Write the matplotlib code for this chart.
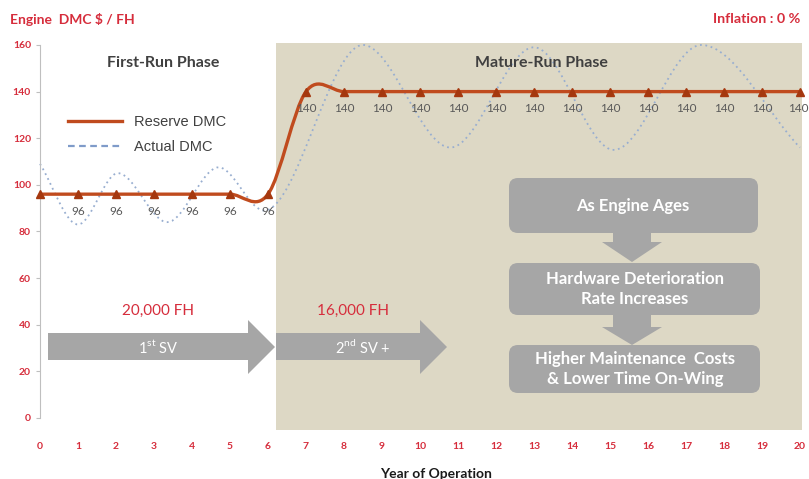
import numpy as np
import matplotlib
matplotlib.use('Agg')
import matplotlib.pyplot as plt
from matplotlib.path import Path
from matplotlib.patches import PathPatch, FancyBboxPatch, Polygon, Rectangle
from matplotlib.lines import Line2D
from matplotlib.transforms import Affine2D

plt.rcParams['font.family'] = ['Lato', 'DejaVu Sans']
plt.rcParams['mathtext.fontset'] = 'custom'
plt.rcParams['mathtext.rm'] = 'Lato'

W, H = 809, 479

# Reserve DMC per year of operation ($/FH)
years = [0, 1, 2, 3, 4, 5, 6, 7, 8, 9, 10, 11, 12, 13, 14, 15, 16, 17, 18, 19, 20]
reserve_dmc = [96, 96, 96, 96, 96, 96, 96, 140, 140, 140, 140, 140, 140, 140,
               140, 140, 140, 140, 140, 140, 140]

# Actual DMC, peaks and troughs of the cycle
actual_years = [0, 1.0, 2.05, 3.35, 4.7, 5.9, 8.5, 10.8, 13.0, 15.1, 17.4, 20]
actual_dmc = [109, 83, 105, 84, 107.5, 89, 160, 116, 159, 115, 160, 116]

y_ticks = [0, 20, 40, 60, 80, 100, 120, 140, 160]

RED = '#d62d3c'
LINE = '#c04b1e'
MARK = '#a5380f'
GREY = '#a6a6a6'
SHADE = '#ddd8c5'


def smooth_path(xs, ys, slopes):
    # cubic bezier through every point with the given tangent slopes
    verts = [(xs[0], ys[0])]
    codes = [Path.MOVETO]
    for i in range(len(xs) - 1):
        d = (xs[i + 1] - xs[i]) / 3
        verts += [(xs[i] + d, ys[i] + slopes[i] * d),
                  (xs[i + 1] - d, ys[i + 1] - slopes[i + 1] * d),
                  (xs[i + 1], ys[i + 1])]
        codes += [Path.CURVE4] * 3
    return Path(verts, codes)


# catmull-rom style tangents (Excel "smoothed line")
res_slopes = [0.0]
for i in range(1, len(years) - 1):
    res_slopes.append((reserve_dmc[i + 1] - reserve_dmc[i - 1]) / (years[i + 1] - years[i - 1]))
res_slopes.append(0.0)

# flat tangents at each peak / trough
act_slopes = [0.0] * len(actual_years)
act_slopes[0] = (actual_dmc[1] - actual_dmc[0]) / (actual_years[1] - actual_years[0])
act_slopes[-1] = (actual_dmc[-1] - actual_dmc[-2]) / (actual_years[-1] - actual_years[-2])

fig = plt.figure(figsize=(W / 100, H / 100), dpi=100)
ax = fig.add_axes([0.04475, 0.0885, 0.9488, 0.8468])
ax.set_xlim(-0.1, 20.1)
ax.set_ylim(-8, 166)

# mature-run phase background
ax.add_patch(Rectangle((6.2, -5.2), 13.85, 166.1, color=SHADE, zorder=0, lw=0))

ax.add_patch(PathPatch(smooth_path(actual_years, actual_dmc, act_slopes), fill=False,
                       ec='#98aed0', lw=1.3, ls=(0, (1, 2)), zorder=2))
ax.add_patch(PathPatch(smooth_path(years, reserve_dmc, res_slopes), fill=False,
                       ec=LINE, lw=2.4, zorder=3))
ax.plot(years, reserve_dmc, ls='none', marker='^', ms=5.5, color=MARK, zorder=4)

for x, v in zip(years[1:], reserve_dmc[1:]):
    dx = -2 if x == years[-1] else 0
    ax.annotate(str(v), (x, v), xytext=(dx, -17), textcoords='offset pixels',
                ha='center', va='center', fontsize=8.5, color='#595959', zorder=5)

for s in ['top', 'right', 'bottom']:
    ax.spines[s].set_visible(False)
ax.spines['left'].set_position(('data', 0))
ax.spines['left'].set_bounds(0, 160)
ax.spines['left'].set_color('#bfbfbf')
ax.set_yticks(y_ticks)
ax.set_xticks(years)
ax.tick_params(axis='y', length=3, color='#bfbfbf', labelcolor=RED, labelsize=7.5)
ax.tick_params(axis='x', length=0, pad=4, labelcolor=RED, labelsize=7.5)
for lab in ax.get_xticklabels() + ax.get_yticklabels():
    lab.set_fontweight('bold')
ax.set_facecolor('none')

handles = [Line2D([], [], color=LINE, lw=2.4),
           Line2D([], [], color='#7f9bc9', lw=1.6, ls=(0, (3, 2)))]
ax.legend(handles, ['Reserve DMC', 'Actual DMC'], loc='upper left',
          bbox_to_anchor=(68 / W, 1 - 115 / H), bbox_transform=fig.transFigure,
          frameon=False, handlelength=3.7, handletextpad=0.8, labelspacing=0.75,
          borderpad=0, borderaxespad=0,
          prop={'family': 'Liberation Sans', 'size': 10.5}, labelcolor='#404040')

# pixel coordinates, origin top-left
pix = Affine2D().scale(1 / W, -1 / H).translate(0, 1) + fig.transFigure


def ptext(x, y, s, **kw):
    kw.setdefault('ha', 'center')
    kw.setdefault('va', 'center')
    fig.text(x, y, s, transform=pix, **kw)


ptext(10, 19, r'Engine  DMC \$ / FH', ha='left', color=RED, fontsize=10, fontweight='bold')
ptext(800, 19, 'Inflation : 0 %', ha='right', color=RED, fontsize=10.3, fontweight='bold')
ptext(163, 63, 'First-Run Phase', color='#404040', fontsize=11.5, fontweight='bold')
ptext(541, 63, 'Mature-Run Phase', color='#404040', fontsize=11.5, fontweight='bold')
ptext(436, 474, 'Year of Operation', color='#1a1a1a', fontsize=10, fontweight='bold')

# shop visit arrows
sv1 = [(48, 333), (248, 333), (248, 320), (275, 347), (248, 374), (248, 360), (48, 360)]
sv2 = [(276, 333), (420, 333), (420, 320), (447, 347), (420, 374), (420, 360), (276, 360)]
for pts in (sv1, sv2):
    fig.add_artist(Polygon(pts, closed=True, transform=pix, fc=GREY, ec='none', zorder=5))
ptext(158, 311, '20,000 FH', color=RED, fontsize=11)
ptext(353, 311, '16,000 FH', color=RED, fontsize=11)
ptext(158, 347, r'1$^{\mathrm{st}}$ SV', color='white', fontsize=10.5, zorder=6)
ptext(363, 347, r'2$^{\mathrm{nd}}$ SV +', color='white', fontsize=10.5, zorder=6)

# ageing flow chart
boxes = [(509, 178, 249, 55), (509, 263, 251, 52), (509, 345, 251, 48)]
for bx, by, bw, bh in boxes:
    fig.add_artist(FancyBboxPatch((bx, by), bw, bh, boxstyle='round,pad=0,rounding_size=9',
                                  transform=pix, fc=GREY, ec='none', zorder=5))
downs = [[(613, 232), (651, 232), (651, 242), (662, 242), (632, 262), (602, 242), (613, 242)],
         [(613, 314), (651, 314), (651, 327), (662, 327), (632, 345), (602, 327), (613, 327)]]
for pts in downs:
    fig.add_artist(Polygon(pts, closed=True, transform=pix, fc=GREY, ec='none', zorder=5))
ptext(633, 206, 'As Engine Ages', color='white', fontsize=12, fontweight='bold', zorder=6)
ptext(635, 289, 'Hardware Deterioration\nRate Increases', color='white', fontsize=12,
      fontweight='bold', linespacing=1.25, zorder=6)
ptext(635, 369, 'Higher Maintenance  Costs\n& Lower Time On-Wing', color='white', fontsize=12,
      fontweight='bold', linespacing=1.25, zorder=6)

fig.savefig('out.png', dpi=100)
